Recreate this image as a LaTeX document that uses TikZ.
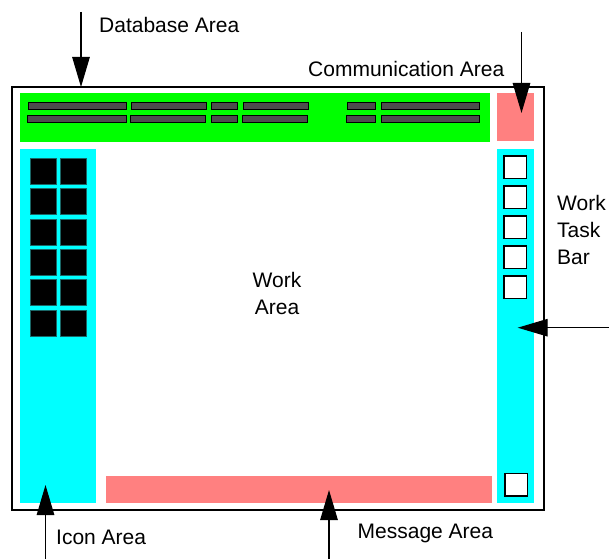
\documentclass[tikz,border=0pt]{standalone}
\usepackage{fontspec}
\setmainfont{Liberation Sans}
\usetikzlibrary{arrows.meta}
\definecolor{dbgreen}{HTML}{00FF00}
\definecolor{msgpink}{HTML}{FF8080}
\definecolor{barcyan}{HTML}{00FFFF}
\definecolor{slotgray}{HTML}{4D4D4D}
\definecolor{iconedge}{HTML}{1A6666}
\tikzset{
  region/.style={rectangle, inner sep=0pt, outer sep=0pt, anchor=north west},
  slot/.style={region, fill=slotgray, draw=black, line width=0.9pt, minimum height=7.2pt},
  iconbox/.style={region, fill=black, draw=iconedge, line width=0.6pt, minimum width=26pt, minimum height=26pt},
  taskbox/.style={region, fill=white, draw=black, line width=1.2pt, minimum width=22.5pt, minimum height=22.5pt},
  label/.style={inner sep=0pt, font=\fontsize{21}{27}\selectfont},
  pointer/.style={line width=1.2pt, -{Triangle[length=30pt,width=17.5pt]}},
}
\begin{document}
\begin{tikzpicture}[x=1pt, y=-1pt]
\useasboundingbox (0,0) rectangle (609,559);

% window frame
\node[region, draw=black, line width=1.4pt, minimum width=532pt, minimum height=423pt] (frame) at (12,87) {};

% database area with its field slots
\node[region, fill=dbgreen, minimum width=470pt, minimum height=49pt] (db) at (20,93) {};
\foreach \x/\w [count=\i] in {28/98.5, 131.5/74.5, 211.5/26, 243/65, 347/28.5, 381.5/98}
  \node[slot, minimum width=\w pt] (slotA\i) at (\x,102) {};
\foreach \x/\w [count=\i] in {27.5/98.5, 130.5/74.5, 211/26, 242.5/65, 346.5/28.5, 381/98}
  \node[slot, minimum width=\w pt] (slotB\i) at (\x,115.3) {};

% communication area
\node[region, fill=msgpink, minimum width=37pt, minimum height=48pt] (comm) at (497,93) {};

% icon area
\node[region, fill=barcyan, minimum width=76pt, minimum height=354pt] (icons) at (20,149) {};
\foreach \r in {0,...,5}
  \foreach \c/\x in {1/30.3, 2/60.3}
    \node[iconbox] (icon-\r-\c) at (\x,{158+30.4*\r}) {};

% work task bar
\node[region, fill=barcyan, minimum width=37pt, minimum height=354pt] (task) at (497,149) {};
\foreach \r in {0,...,4}
  \node[taskbox] (task-\r) at (504,{156+30*\r}) {};
\node[taskbox] (task-last) at (505,473.5) {};

% message area
\node[region, fill=msgpink, minimum width=386pt, minimum height=27pt] (msg) at (106,476) {};

% work area caption
\node[label, align=center] (work) at (277,293.5) {Work\\Area};

% captions
\node[label, anchor=west] (dblabel) at (99,25.3) {Database Area};
\node[label, anchor=west] (commlabel) at (308,69) {Communication Area};
\node[label, anchor=west, align=left] (tasklabel) at (557,230.2) {Work\\Task\\Bar};
\node[label, anchor=west] (iconlabel) at (56,537.5) {Icon Area};
\node[label, anchor=west] (msglabel) at (357.5,533.5) {Message Area};

% pointers
\coordinate (dbtail) at (81,12);
\draw[pointer] (dbtail) -- (dbtail |- frame.north);
\coordinate (commtail) at (521.5,32);
\coordinate (commtip) at (521.5,113);
\draw[pointer] (commtail) -- (commtip);
\coordinate (tasktail) at (609,327.7);
\coordinate (tasktip) at (517.7,327.7);
\draw[pointer] (tasktail) -- (tasktip);
\coordinate (icontail) at (45.5,559);
\coordinate (icontip) at (45.5,485);
\draw[pointer] (icontail) -- (icontip);
\coordinate (msgtail) at (329,559);
\coordinate (msgtip) at (329,490);
\draw[pointer] (msgtail) -- (msgtip);
\end{tikzpicture}
\end{document}
